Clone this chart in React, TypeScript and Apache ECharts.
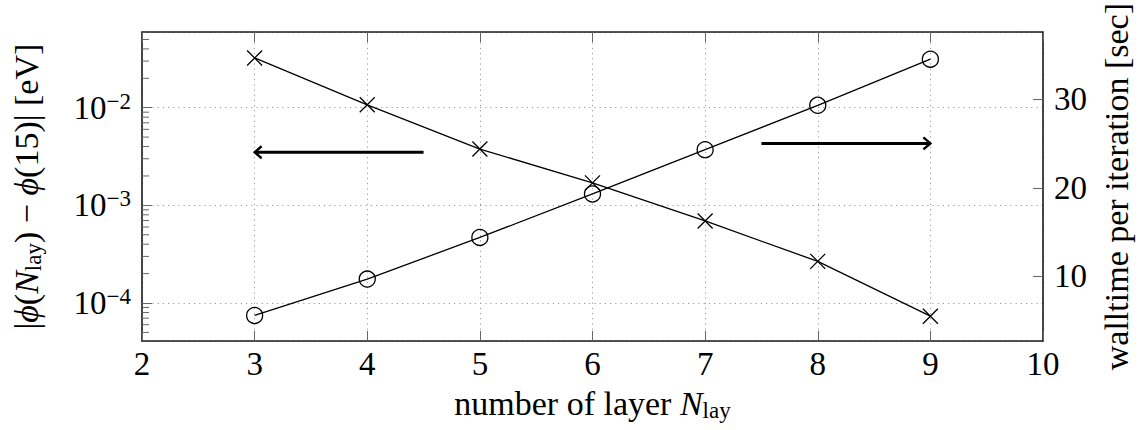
import React, { useEffect, useRef } from 'react';
import * as echarts from 'echarts';

// ---- data ----
const layers = [3, 4, 5, 6, 7, 8, 9];
const phiDiff = [3.23e-2, 1.07e-2, 3.77e-3, 1.7e-3, 6.92e-4, 2.67e-4, 7.33e-5];
const walltime = [5.6, 9.7, 14.4, 19.3, 24.3, 29.3, 34.5];
const rightTicks = [10, 20, 30];
const arrowLeft = [4.5, 3.5e-3, 3, 3.5e-3];
const arrowRight = [7.5, 25, 9, 25];

const FONT = "'Liberation Serif', 'DejaVu Serif', serif";
const LOG_MIN = Math.pow(10, -4.389);
const LOG_MAX = Math.pow(10, -1.2273);

const minorTicks: number[] = [];
for (let e = -5; e <= -1; e++) {
  for (let k = 2; k <= 9; k++) {
    const v = k * Math.pow(10, e);
    if (v > LOG_MIN && v < LOG_MAX) minorTicks.push(v);
  }
}

const CROSS = 'path://M0 0L10 10M10 0L0 10';
const LBL = 33;
const TTL = 34;
const SMALL = 23;

export default function App() {
  const ref = useRef<HTMLDivElement>(null);
  useEffect(() => {
    if (!ref.current) return;
    const chart = echarts.init(ref.current, undefined, { renderer: 'svg' });
    const gridLine = { show: true, lineStyle: { color: '#9a9a9a', width: 1, type: [1.2, 4] as any } };
    const axisLine = { show: true, lineStyle: { color: '#1a1a1a', width: 1.6 } };
    const tick = { show: true, inside: true, length: 10, lineStyle: { color: '#666', width: 1 } };
    const subRich = {
      i: { fontStyle: 'italic', fontSize: TTL, lineHeight: 37, fontFamily: FONT, color: '#000' },
      sub: { fontSize: SMALL, lineHeight: 24, verticalAlign: 'bottom', fontFamily: FONT, color: '#000' },
    };
    const arrowRender = (params: any, api: any) => {
      const a = api.coord([api.value(0), api.value(1)]);
      const b = api.coord([api.value(2), api.value(3)]);
      const s = Math.sign(b[0] - a[0]);
      return {
        type: 'group',
        children: [
          { type: 'line', shape: { x1: a[0], y1: a[1], x2: b[0] - s * 1.5, y2: b[1] }, style: { stroke: '#000', lineWidth: 3 } },
          {
            type: 'polyline',
            shape: { points: [[b[0] - s * 7, b[1] - 6], [b[0], b[1]], [b[0] - s * 7, b[1] + 6]] },
            style: { stroke: '#000', lineWidth: 2.4, fill: 'none' },
          },
        ],
      };
    };
    chart.setOption({
      animation: false,
      textStyle: { fontFamily: FONT },
      grid: { left: 142, right: 105, top: 30, bottom: 89, containLabel: false },
      xAxis: [
        {
          type: 'value', min: 2, max: 10, interval: 1,
          axisLine, axisTick: tick, splitLine: gridLine,
          axisLabel: { fontSize: LBL, color: '#000', margin: 6, fontFamily: FONT },
          name: 'number of layer {i|N}{sub|lay}', nameLocation: 'middle', nameGap: 33,
          nameTextStyle: { fontSize: TTL, lineHeight: 37, color: '#000', fontFamily: FONT, rich: subRich },
        },
        {
          type: 'value', position: 'top', min: 2, max: 10, interval: 1,
          axisLine, axisTick: tick, splitLine: { show: false }, axisLabel: { show: false },
        },
      ],
      yAxis: [
        {
          type: 'log', logBase: 10, min: LOG_MIN, max: LOG_MAX,
          axisLine, axisTick: tick, splitLine: gridLine,
          axisLabel: {
            showMinLabel: false, showMaxLabel: false, margin: 11,
            formatter: (v: number) => '{b|10}{sup|\u2212' + (-Math.round(Math.log10(v))) + '}',
            rich: {
              b: { fontSize: LBL, lineHeight: 36, color: '#000', fontFamily: FONT },
              sup: { fontSize: SMALL, lineHeight: 24, verticalAlign: 'top', color: '#000', fontFamily: FONT },
            },
          },
          name: '|{i|\u03d5}({i|N}{sub|lay}) \u2212 {i|\u03d5}(15)| [eV]',
          nameLocation: 'middle', nameRotate: 90, nameGap: 97,
          nameTextStyle: { fontSize: TTL, lineHeight: 37, color: '#000', fontFamily: FONT, rich: subRich },
        },
        {
          type: 'value', position: 'right', min: 2.72, max: 37.54,
          axisLine, axisTick: { ...tick, customValues: rightTicks }, splitLine: { show: false },
          axisLabel: { customValues: rightTicks, fontSize: LBL, color: '#000', margin: 11, fontFamily: FONT },
          name: 'walltime per iteration [sec]', nameLocation: 'middle', nameRotate: 90, nameGap: 45,
          nameTextStyle: { fontSize: TTL, lineHeight: 37, color: '#000', fontFamily: FONT },
        },
      ],
      series: [
        {
          type: 'line', name: 'phi', xAxisIndex: 0, yAxisIndex: 0,
          data: layers.map((x, i) => [x, phiDiff[i]]),
          symbol: CROSS, symbolSize: 15,
          lineStyle: { color: '#000', width: 1.3 },
          itemStyle: { color: 'rgba(0,0,0,0)', borderColor: '#000', borderWidth: 1.3 },
        },
        {
          type: 'line', name: 'walltime', xAxisIndex: 0, yAxisIndex: 1,
          data: layers.map((x, i) => [x, walltime[i]]),
          symbol: 'circle', symbolSize: 16,
          lineStyle: { color: '#000', width: 1.3 },
          itemStyle: { color: 'rgba(0,0,0,0)', borderColor: '#000', borderWidth: 1.3 },
        },
        {
          type: 'custom', xAxisIndex: 0, yAxisIndex: 0, silent: true, clip: false,
          data: minorTicks.map((v) => [2, v]),
          renderItem: (params: any, api: any) => {
            const p = api.coord([api.value(0), api.value(1)]);
            return { type: 'line', shape: { x1: p[0], y1: p[1], x2: p[0] + 7, y2: p[1] }, style: { stroke: '#666', lineWidth: 1 } };
          },
        },
        {
          type: 'custom', xAxisIndex: 0, yAxisIndex: 0, silent: true, clip: false,
          data: [arrowLeft], renderItem: arrowRender,
        },
        {
          type: 'custom', xAxisIndex: 0, yAxisIndex: 1, silent: true, clip: false,
          data: [arrowRight], renderItem: arrowRender,
        },
      ],
    });
    return () => chart.dispose();
  }, []);
  return <div ref={ref} style={{ position: 'absolute', left: 0, top: 0, width: 1148, height: 430 }} />;
}
